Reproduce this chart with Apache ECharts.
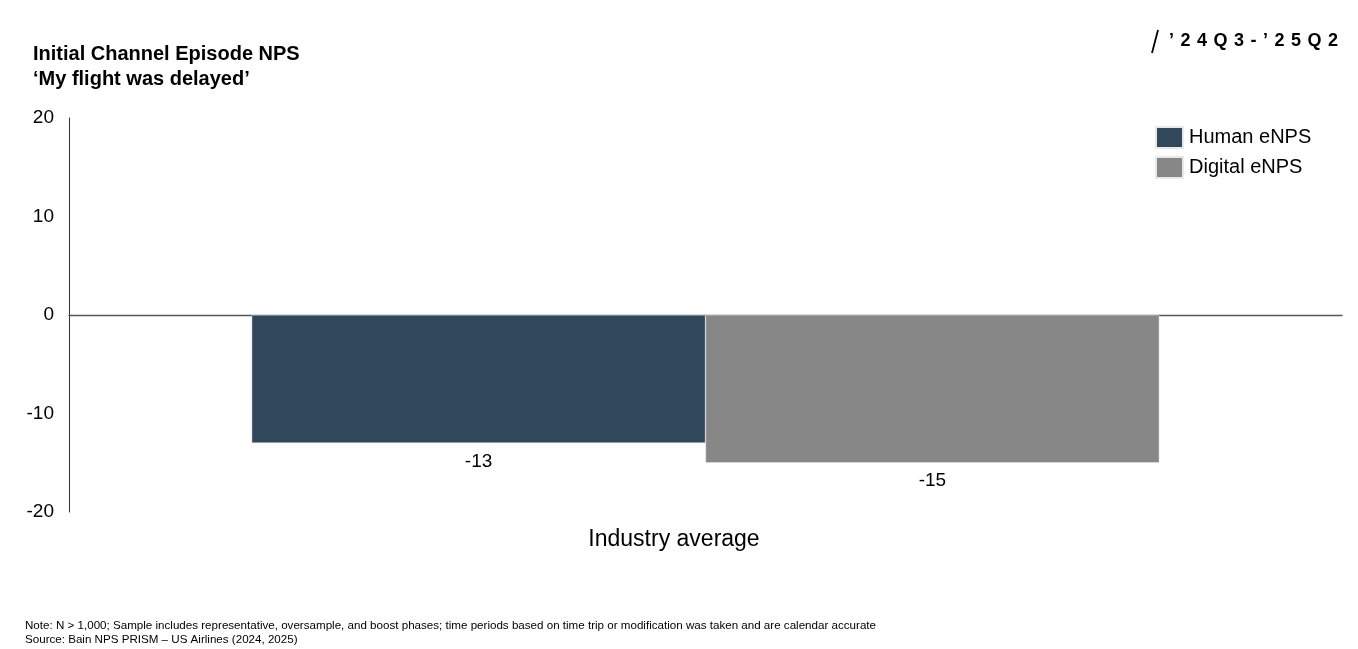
<!DOCTYPE html>
<html>
<head>
<meta charset="utf-8">
<script src="https://cdn.jsdelivr.net/npm/echarts@6/dist/echarts.min.js"></script>
<style>
html,body{margin:0;padding:0;background:#fff;}
#c{width:1358px;height:649px;}
</style>
</head>
<body>
<div id="c"></div>
<script>
const categories = ['Industry average'];
const humanENPS = [-13];
const digitalENPS = [-15];
const seriesNames = ['Human eNPS', 'Digital eNPS'];
const yTicks = [-20, -10, 0, 10, 20];

const F = 'Liberation Sans, Arial, sans-serif';
const chart = echarts.init(document.getElementById('c'));
chart.setOption({
  animation: false,
  textStyle: { fontFamily: F },
  grid: { left: 69, right: 16, top: 118, bottom: 137, containLabel: false },
  legend: {
    orient: 'vertical', left: 1150, top: 121,
    itemWidth: 27, itemHeight: 21, itemGap: 7,
    textStyle: { fontSize: 20, lineHeight: 21, color: '#000', fontFamily: F, padding: [0,0,0,1] },
    data: seriesNames.map(n => ({ name: n, icon: 'rect' }))
  },
  xAxis: {
    type: 'category', data: categories,
    axisLine: { onZero: true, lineStyle: { color: '#555', width: 1.3 } },
    axisTick: { show: false }, axisLabel: { show: false }
  },
  yAxis: {
    type: 'value', min: yTicks[0], max: yTicks[yTicks.length-1], interval: 10,
    axisLine: { show: true, lineStyle: { color: '#333', width: 1 } },
    axisTick: { show: false }, splitLine: { show: false },
    axisLabel: { fontSize: 19, color: '#000', margin: 15, fontFamily: F }
  },
  series: [
    { name: seriesNames[0], type: 'bar', data: humanENPS, barGap: '0%', barCategoryGap: '28.7%',
      itemStyle: { color: '#31475B', borderColor: '#e8e8e8', borderWidth: 0.5 },
      label: { show: true, position: 'bottom', distance: 9, fontSize: 19, color: '#000', fontFamily: F } },
    { name: seriesNames[1], type: 'bar', data: digitalENPS, barGap: '0%', barCategoryGap: '28.7%',
      itemStyle: { color: '#878787', borderColor: '#e8e8e8', borderWidth: 0.5 },
      label: { show: true, position: 'bottom', distance: 9, fontSize: 19, color: '#000', fontFamily: F } }
  ],
  graphic: [
    { type: 'text', left: 33, top: 42, style: { text: 'Initial Channel Episode NPS\n‘My flight was delayed’', font: 'bold 20px ' + F, fill: '#000', lineHeight: 25 } },
    { type: 'line', shape: { x1: 1158, y1: 30, x2: 1152, y2: 53 }, style: { stroke: '#000', lineWidth: 1.8 } },
    { type: 'text', x: 1338, y: 41, style: { text: '’ \u200A2 \u200A4 \u200AQ \u200A3 \u200A- \u200A’ \u200A2 \u200A5 \u200AQ \u200A2', font: 'bold 18px ' + F, fill: '#000', align: 'right', verticalAlign: 'middle' } },
    { type: 'text', x: 674, y: 540, style: { text: categories[0], font: '23px ' + F, fill: '#000', align: 'center', verticalAlign: 'middle' } },
    { type: 'text', left: 25, top: 619, style: { text: 'Note: N > 1,000; Sample includes representative, oversample, and boost phases; time periods based on time trip or modification was taken and are calendar accurate\nSource: Bain NPS PRISM – US Airlines (2024, 2025)', font: '11.6px ' + F, fill: '#000', lineHeight: 14 } }
  ]
});
</script>
</body>
</html>
